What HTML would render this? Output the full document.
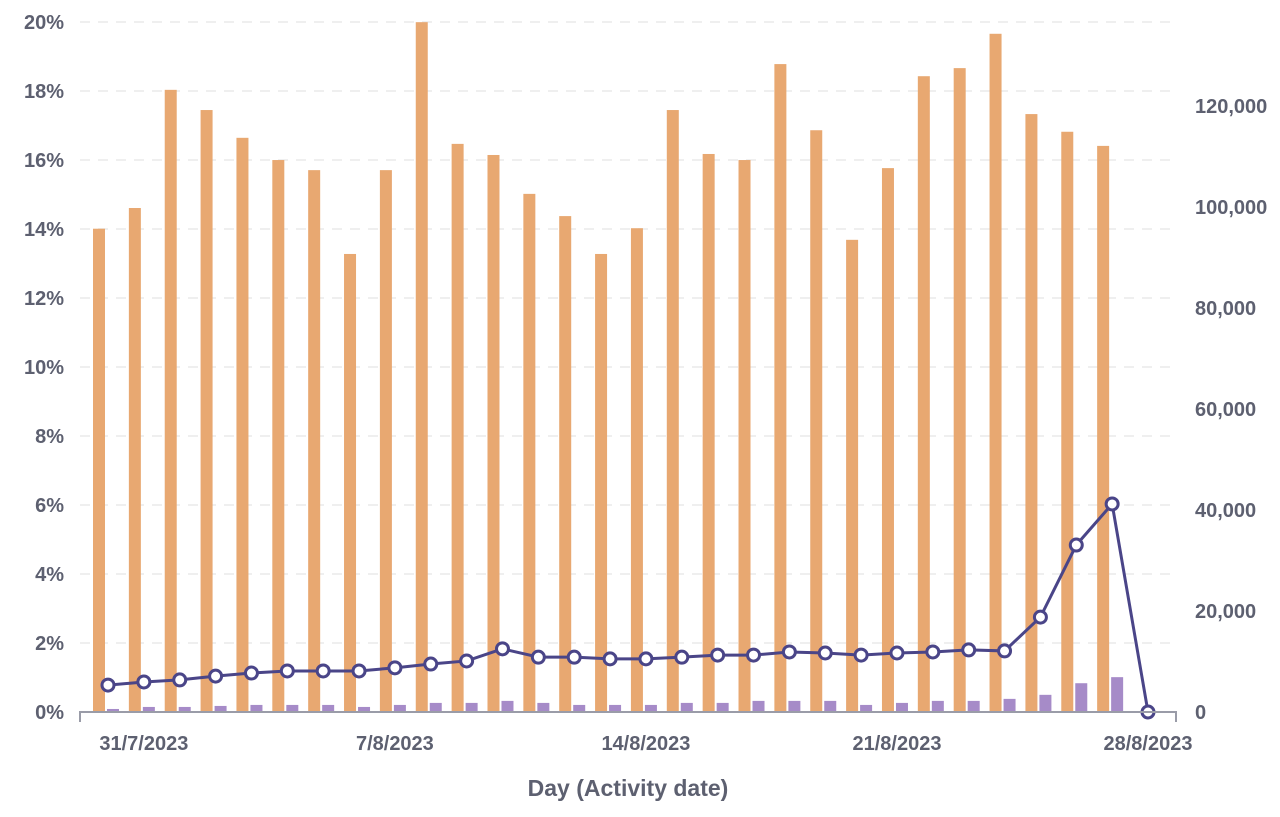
<!DOCTYPE html>
<html><head><meta charset="utf-8"><style>
body{margin:0;background:#fff;}
svg text{font-family:"Liberation Sans",sans-serif;fill:#5d6070;font-weight:bold;}
</style></head><body>
<svg width="1280" height="812">
<g id="grid"></g><g id="bars"></g><g id="line"></g><g id="axes"></g>
</svg>
<script>
const dates = ["30/7","31/7","1/8","2/8","3/8","4/8","5/8","6/8","7/8","8/8","9/8","10/8","11/8","12/8","13/8","14/8","15/8","16/8","17/8","18/8","19/8","20/8","21/8","22/8","23/8","24/8","25/8","26/8","27/8","28/8"];
const countValues = [95.7,99.8,123.2,119.2,113.7,109.3,107.3,90.7,107.3,136.6,112.5,110.3,102.6,98.2,90.7,95.8,119.2,110.5,109.3,128.3,115.2,93.5,107.7,125.9,127.5,134.3,118.4,114.9,112.1];
const smallValues = [0.6,1.0,1.0,1.2,1.4,1.4,1.4,1.0,1.4,1.8,1.8,2.2,1.8,1.4,1.4,1.4,1.8,1.8,2.2,2.2,2.2,1.4,1.8,2.2,2.2,2.6,3.4,5.7,6.9];
const rateValues = [0.78,0.87,0.93,1.04,1.13,1.19,1.19,1.19,1.28,1.39,1.48,1.83,1.59,1.59,1.54,1.54,1.59,1.65,1.65,1.74,1.71,1.65,1.71,1.74,1.80,1.77,2.75,4.84,6.03,0];
const leftTicks = [0,2,4,6,8,10,12,14,16,18,20];
const rightTicks = [0,20,40,60,80,100,120];
const xLabels = [[1,"31/7/2023"],[8,"7/8/2023"],[15,"14/8/2023"],[22,"21/8/2023"],[29,"28/8/2023"]];
const NS="http://www.w3.org/2000/svg";
const x0=108, step=(1148-108)/29, base=712;
const xs=i=>x0+i*step;
const yL=v=>base-v*34.5;
const yR=v=>base-v*5.05;
function mk(t,a,p){const e=document.createElementNS(NS,t);for(const k in a)e.setAttribute(k,a[k]);p.appendChild(e);return e;}
const grid=document.getElementById('grid'),bars=document.getElementById('bars'),line=document.getElementById('line'),axes=document.getElementById('axes');
leftTicks.forEach(v=>{
  if(v>0){const g=mk('line',{x1:80,x2:1176,y1:yL(v),y2:yL(v),stroke:'#eaeaea','stroke-dasharray':'10 8','stroke-width':1.5},grid);
  
  }
  const t=mk('text',{x:64,y:yL(v)+7,'text-anchor':'end','font-size':20},axes);t.textContent=v+'%';
  
  
});
rightTicks.forEach(v=>{
  const t=mk('text',{x:1195,y:yR(v)+7,'font-size':20},axes);t.textContent=v===0?'0':v+',000';
  
  
});
countValues.forEach((v,i)=>{
  const r=mk('rect',{x:xs(i)-15,y:yR(v),width:12,height:base-yR(v),fill:'#e8a871'},bars);
  
  
});
smallValues.forEach((v,i)=>{
  const r=mk('rect',{x:xs(i)-1,y:yR(v),width:12,height:base-yR(v),fill:'#a68bc8'},bars);
  
  
});
const pl=mk('polyline',{points:rateValues.map((v,i)=>xs(i)+','+yL(v)).join(' '),fill:'none',stroke:'#4a4588','stroke-width':3},line);


rateValues.forEach((v,i)=>{
  const c=mk('circle',{cx:xs(i),cy:yL(v),r:6,fill:'#fff',stroke:'#4a4588','stroke-width':3},line);
  
  
});
const ax=mk('path',{d:'M80,722 V712 H1176 V722',fill:'none',stroke:'#9a9ca8','stroke-width':2},axes);


xLabels.forEach(([i,l])=>{
  const t=mk('text',{x:xs(i),y:750,'text-anchor':'middle','font-size':20},axes);t.textContent=l;
  
  
});
const tt=mk('text',{x:628,y:796,'text-anchor':'middle','font-size':23},axes);tt.textContent='Day (Activity date)';


</script>
</body></html>
